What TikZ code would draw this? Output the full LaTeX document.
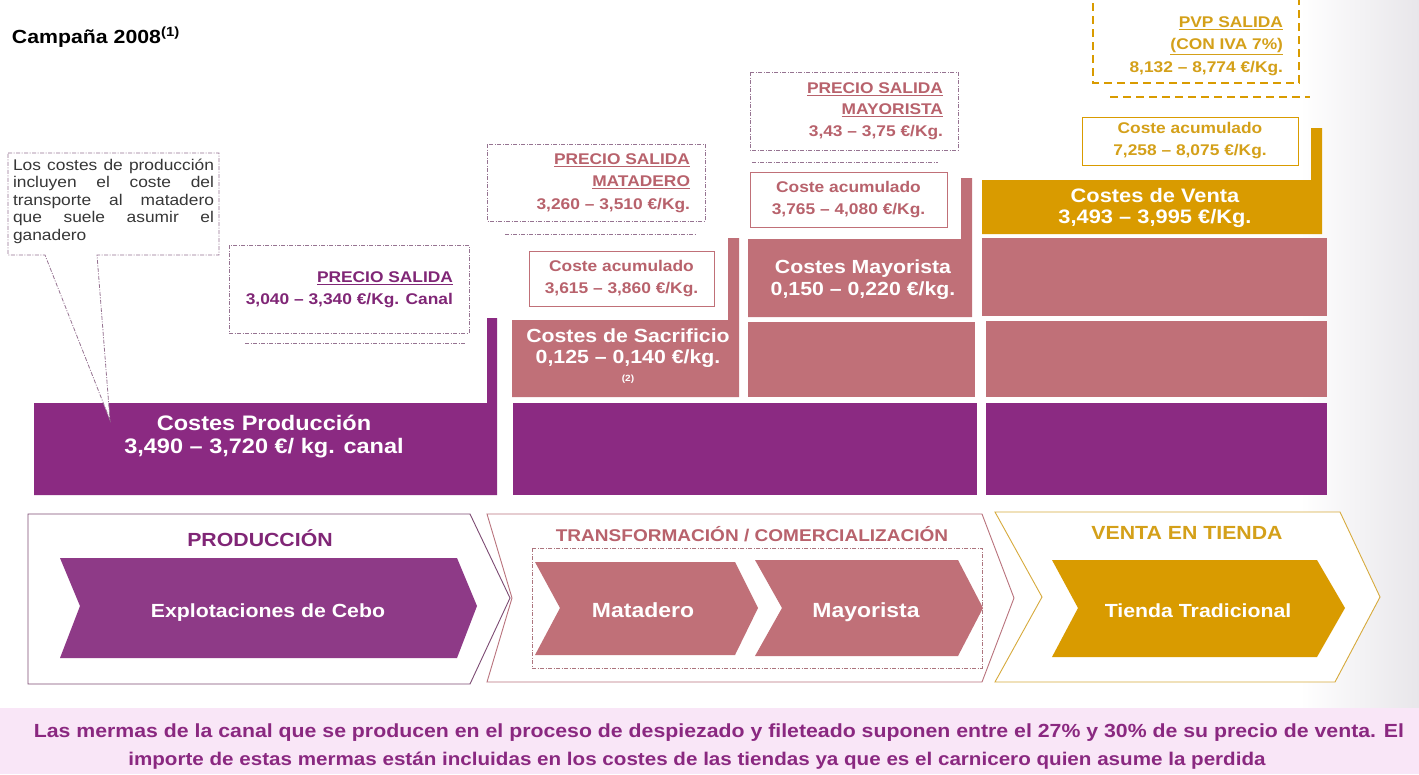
\documentclass[tikz,border=0pt]{standalone}
\usepackage{fontspec}
\setmainfont{Liberation Sans}[FakeStretch=1.12]
\definecolor{pur}{RGB}{139,42,130}
\definecolor{purch}{RGB}{142,58,135}
\definecolor{rose}{RGB}{192,112,120}
\definecolor{gold}{RGB}{217,155,0}
\definecolor{purtxt}{RGB}{128,38,118}
\definecolor{rosetxt}{RGB}{184,98,108}
\definecolor{goldtxt}{RGB}{212,160,25}
\definecolor{notegray}{RGB}{55,55,55}
\definecolor{notebord}{RGB}{150,115,145}
\definecolor{bandbg}{RGB}{249,230,247}
\definecolor{bandtxt}{RGB}{138,40,128}
\definecolor{purbord}{RGB}{125,75,115}
\definecolor{rosebord}{RGB}{185,115,125}
\definecolor{goldbord}{RGB}{215,170,60}
\definecolor{wave}{RGB}{232,230,234}
\newcommand{\fsz}[2]{\fontsize{#1}{#2}\selectfont}
\begin{document}
\begin{tikzpicture}[x=1pt,y=-1pt,
  every node/.style={inner sep=0pt, outer sep=0pt},
  wtxt/.style={text=white, align=center, font=\bfseries\fsz{19}{21.5}},
  dashbox/.style={draw=notebord, line width=0.8pt, dash pattern=on 4pt off 1.5pt on 1pt off 1.5pt},
  rprice/.style={anchor=east, align=right, font=\bfseries\fsz{15.5}{22}},
  accbox/.style={draw=#1, line width=0.9pt, align=center, font=\bfseries\fsz{15.5}{22}},
  chevlab/.style={anchor=base, text=white, font=\bfseries\fsz{19}{21}},
  outline/.style={line width=0.9pt}]
\useasboundingbox (0,0) rectangle (1419,774);
\clip (0,0) rectangle (1419,774);
\fill[white] (0,0) rectangle (1419,774);
\shade[left color=white, right color=wave] (1300,0) rectangle (1419,708);

% title
\node[anchor=base west, font=\bfseries\fsz{19}{21}] (title) at (12,43) {Campaña 2008\textsuperscript{(1)}};

% ---------- bars ----------
\fill[pur] (34,403) -- (487,403) -- (487,318) -- (497,318) -- (497,495) -- (34,495) -- cycle;
\fill[pur] (513,403) rectangle (977,495);
\fill[pur] (986,403) rectangle (1327,495);
\fill[rose] (512,320) -- (728,320) -- (728,238) -- (739,238) -- (739,397) -- (512,397) -- cycle;
\fill[rose] (748,322) rectangle (975,397);
\fill[rose] (748,239) -- (961,239) -- (961,178) -- (972,178) -- (972,317) -- (748,317) -- cycle;
\fill[rose] (982,238) rectangle (1327,316);
\fill[rose] (986,321) rectangle (1327,397);
\fill[gold] (982,180) -- (1311,180) -- (1311,128) -- (1322,128) -- (1322,234) -- (982,234) -- cycle;

\node[wtxt, font=\bfseries\fsz{21}{23}] (prodtxt) at (264,437) {Costes Producción\\3,490 – 3,720 €/ kg. canal};
\node[wtxt, font=\bfseries\fsz{19}{21}] (sactxt) at (628,348) {Costes de Sacrificio\\0,125 – 0,140 €/kg.};
\node[text=white, font=\bfseries\fsz{9}{10}] (sacnote) at (628,379) {(2)};
\node[wtxt, font=\bfseries\fsz{19}{22}] (maytxt) at (863,280) {Costes Mayorista\\0,150 – 0,220 €/kg.};
\node[wtxt, font=\bfseries\fsz{19.5}{21}] (ventxt) at (1155,208) {Costes de Venta\\3,493 – 3,995 €/Kg.};

% ---------- note callout ----------
\draw[dashbox, fill=white] (8,153) -- (219,153) -- (219,255) -- (97,255) -- (110,420) -- (45,255) -- (8,255) -- cycle;
\node[anchor=north west, text width=201pt, align=justify, text=notegray, font=\fsz{15.5}{17.5}] (note) at (13,159)
  {Los costes de producción\linebreak incluyen el coste del\linebreak transporte al matadero\linebreak que suele asumir el\linebreak ganadero};

% ---------- price boxes ----------
\draw[dashbox] (229,245) rectangle (469,333);
\node[rprice, text=purtxt] (ps1) at (453,290) {\underline{PRECIO SALIDA}\\3,040 – 3,340 €/Kg. Canal};
\draw[dashbox] (245,343) -- (465,343);

\draw[dashbox] (487,144) rectangle (705,221);
\node[rprice, text=rosetxt, font=\bfseries\fsz{15.5}{22.5}] (ps2) at (690,183) {\underline{PRECIO SALIDA}\\\underline{MATADERO}\\3,260 – 3,510 €/Kg.};
\draw[dashbox] (505,234) -- (695,234);

\draw[dashbox] (750,72) rectangle (958,150);
\node[rprice, text=rosetxt, font=\bfseries\fsz{15.5}{21.5}] (ps3) at (943,111) {\underline{PRECIO SALIDA}\\\underline{MAYORISTA}\\3,43 – 3,75 €/Kg.};
\draw[dashbox] (752,162) -- (938,162);

\draw[draw=gold, line width=1.5pt, dash pattern=on 8pt off 5pt] (1093,-10) -- (1093,83) -- (1299,83) -- (1299,-10);
\node[rprice, text=goldtxt, font=\bfseries\fsz{15.5}{22.5}] (ps4) at (1283,46) {\underline{PVP SALIDA}\\\underline{(CON IVA 7\%)}\\8,132 – 8,774 €/Kg.};
\draw[draw=gold, line width=1.5pt, dash pattern=on 8pt off 5pt] (1110,97) -- (1310,97);

% ---------- accumulated cost boxes ----------
\node[accbox=rose, text=rosetxt, minimum width=185pt, minimum height=55pt] (acc1) at (621.5,278.5) {Coste acumulado\\3,615 – 3,860 €/Kg.};
\node[accbox=rose, text=rosetxt, minimum width=197pt, minimum height=55pt] (acc2) at (848.5,199.5) {Coste acumulado\\3,765 – 4,080 €/Kg.};
\node[accbox=gold, text=goldtxt, minimum width=216pt, minimum height=48pt] (acc3) at (1190,141) {Coste acumulado\\7,258 – 8,075 €/Kg.};

% ---------- bottom chevrons ----------
\draw[outline, draw=purbord, fill=white] (28,514) -- (470,514) -- (510,598) -- (470,684) -- (28,684) -- cycle;
\draw[outline, draw=rosebord, fill=white] (487,514) -- (982,514) -- (1014,598) -- (982,682) -- (487,682) -- (512,598) -- cycle;
\draw[outline, draw=goldbord, fill=white] (995,512) -- (1340,512) -- (1380,597) -- (1335,682) -- (995,682) -- (1042,597) -- cycle;
\draw[draw=rosebord!80!gray, line width=0.7pt, dash pattern=on 4pt off 1.5pt on 1pt off 1.5pt] (532,548) rectangle (982,668);

\fill[purch] (60,558) -- (457,558) -- (477,606) -- (457,658) -- (60,658) -- (80,606) -- cycle;
\fill[rose] (535,562) -- (735,562) -- (758,608) -- (735,655) -- (535,655) -- (560,608) -- cycle;
\fill[rose] (755,560) -- (958,560) -- (983,608) -- (958,656) -- (755,656) -- (782,608) -- cycle;
\fill[gold] (1052,560) -- (1317,560) -- (1345,608) -- (1317,657) -- (1052,657) -- (1078,608) -- cycle;

\node[text=purtxt, font=\bfseries\fsz{19}{21}] (lprod) at (260,538) {PRODUCCIÓN};
\node[text=rosetxt, font=\bfseries\fsz{17}{19}] (ltrans) at (752,534) {TRANSFORMACIÓN / COMERCIALIZACIÓN};
\node[text=goldtxt, font=\bfseries\fsz{19}{21}] (lventa) at (1187,533) {VENTA EN TIENDA};

\node[chevlab] (cexp) at (268,617) {Explotaciones de Cebo};
\node[chevlab, font=\bfseries\fsz{20.5}{22}] (cmat) at (643,617) {Matadero};
\node[chevlab, font=\bfseries\fsz{20.5}{22}] (cmay) at (866,617) {Mayorista};
\node[chevlab] (ctie) at (1198,617) {Tienda Tradicional};

% ---------- bottom band ----------
\fill[bandbg] (0,708) rectangle (1419,774);
\node[anchor=base, text=bandtxt, font=\bfseries\fsz{19}{21}] (m1) at (719,737) {Las mermas de la canal que se producen en el proceso de despiezado y fileteado suponen entre el 27\% y 30\% de su precio de venta. El};
\node[anchor=base, text=bandtxt, font=\bfseries\fsz{18.4}{21}] (m2) at (697,765) {importe de estas mermas están incluidas en los costes de las tiendas ya que es el carnicero quien asume la perdida};
\end{tikzpicture}
\end{document}
